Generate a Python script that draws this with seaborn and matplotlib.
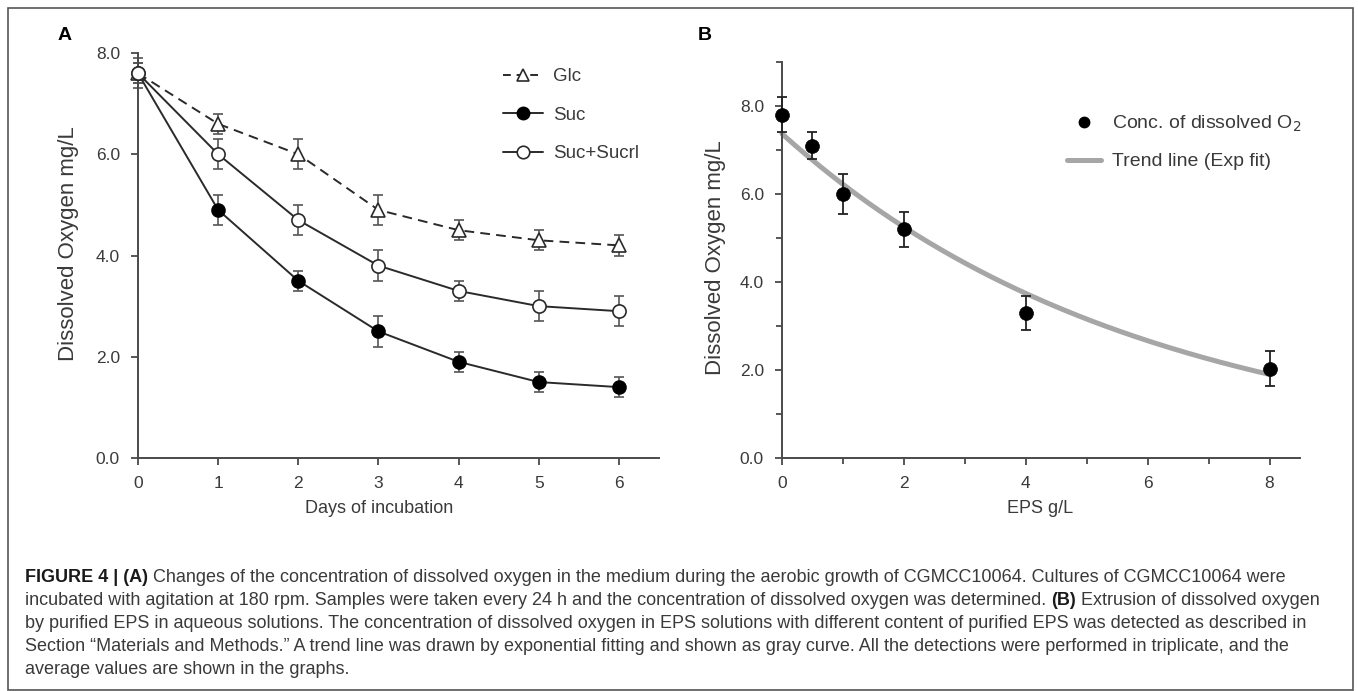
import numpy as np
import pandas as pd
import matplotlib
matplotlib.use("Agg")
import matplotlib.pyplot as plt
import seaborn as sns
from matplotlib.ticker import MultipleLocator, FormatStrFormatter
from matplotlib.lines import Line2D
from matplotlib.patches import Rectangle

# ---------------- data ----------------
days = [0, 1, 2, 3, 4, 5, 6]
glc = [7.6, 6.6, 6.0, 4.9, 4.5, 4.3, 4.2]
glc_err = [0.2, 0.2, 0.3, 0.3, 0.2, 0.2, 0.2]
suc = [7.6, 4.9, 3.5, 2.5, 1.9, 1.5, 1.4]
suc_err = [0.2, 0.3, 0.2, 0.3, 0.2, 0.2, 0.2]
sucrl = [7.6, 6.0, 4.7, 3.8, 3.3, 3.0, 2.9]
sucrl_err = [0.3, 0.3, 0.3, 0.3, 0.2, 0.3, 0.3]
series_names = ["Glc", "Suc", "Suc+Sucrl"]

eps = [0, 0.5, 1, 2, 4, 8]
dissolved = [7.8, 7.1, 6.0, 5.2, 3.3, 2.03]
dissolved_err = [0.4, 0.3, 0.45, 0.4, 0.38, 0.4]

yticks_a = [0, 2, 4, 6, 8]
xticks_a = [0, 1, 2, 3, 4, 5, 6]
yticks_b = [0, 2, 4, 6, 8]
xticks_b = [0, 2, 4, 6, 8]

caption_lines = [
    [("FIGURE 4 | (A)", "bold"),
     ("Changes of the concentration of dissolved oxygen in the medium during the aerobic growth of CGMCC10064. Cultures of CGMCC10064 were", "normal")],
    [("incubated with agitation at 180 rpm. Samples were taken every 24 h and the concentration of dissolved oxygen was determined.", "normal"),
     ("(B)", "bold"), ("Extrusion of dissolved oxygen", "normal")],
    [("by purified EPS in aqueous solutions. The concentration of dissolved oxygen in EPS solutions with different content of purified EPS was detected as described in", "normal")],
    [("Section \u201cMaterials and Methods.\u201d A trend line was drawn by exponential fitting and shown as gray curve. All the detections were performed in triplicate, and the", "normal")],
    [("average values are shown in the graphs.", "normal")],
]

# ---------------- style ----------------
sns.set_style("ticks")
plt.rcParams["font.family"] = ["Liberation Sans", "DejaVu Sans"]
plt.rcParams["axes.linewidth"] = 1.4

W, H = 1358, 691
fig = plt.figure(figsize=(W / 100, H / 100), dpi=100)
fig.patch.set_facecolor("white")

dark = "#2a2a2a"
spine_c = "#4a4a4a"
tick_c = "#3a3a3a"
err_c = "#555555"


def style_axes(ax):
    sns.despine(ax=ax)
    for s in ["left", "bottom"]:
        ax.spines[s].set_color(spine_c)
        ax.spines[s].set_linewidth(1.4)
    ax.tick_params(axis="both", which="major", direction="out", length=5, width=1.3,
                   color=spine_c, labelsize=12.5, labelcolor=tick_c, pad=8)
    ax.tick_params(axis="both", which="minor", direction="out", length=4, width=1.3,
                   color=spine_c)
    ax.set_facecolor("white")


# ---------------- Panel A ----------------
axA = fig.add_axes([138 / W, 1 - 458 / H, (659 - 138) / W, (458 - 53) / H])
style_axes(axA)

for vals, errs in [(glc, glc_err), (suc, suc_err), (sucrl, sucrl_err)]:
    axA.errorbar(days, vals, yerr=errs, fmt="none", ecolor=err_c, elinewidth=1.2,
                 capsize=3.5, capthick=1.2, zorder=2, clip_on=False)

sns.lineplot(x=days, y=glc, ax=axA, color=dark, linestyle=(0, (5, 3.2)), linewidth=1.4,
             marker="^", markersize=10, markerfacecolor="white", markeredgecolor=dark,
             markeredgewidth=1.2, zorder=3, clip_on=False)
sns.lineplot(x=days, y=suc, ax=axA, color=dark, linewidth=1.4,
             marker="o", markersize=9.5, markerfacecolor="black", markeredgecolor="black",
             markeredgewidth=1.0, zorder=4, clip_on=False)
sns.lineplot(x=days, y=sucrl, ax=axA, color=dark, linewidth=1.4,
             marker="o", markersize=9.5, markerfacecolor="white", markeredgecolor=dark,
             markeredgewidth=1.2, zorder=5, clip_on=False)

axA.set_xlim(0, 6.5)
axA.set_ylim(0, 8)
axA.set_xticks(xticks_a)
axA.set_yticks(yticks_a)
axA.yaxis.set_major_formatter(FormatStrFormatter("%.1f"))
axA.set_ylabel("Dissolved Oxygen mg/L", fontsize=16, color=tick_c)
axA.yaxis.set_label_coords(-0.134, 0.53)
axA.set_xlabel("Days of incubation", fontsize=13, color=tick_c)
axA.xaxis.set_label_coords(0.462, -0.125)
axA.xaxis.label.set_va("center")
axA.yaxis.label.set_va("center")

handlesA = [
    Line2D([], [], color=dark, linestyle=(0, (4, 3)), linewidth=1.4, marker="^", markersize=9,
           markerfacecolor="white", markeredgecolor=dark, markeredgewidth=1.2),
    Line2D([], [], color=dark, linewidth=1.4, marker="o", markersize=9,
           markerfacecolor="black", markeredgecolor="black"),
    Line2D([], [], color=dark, linewidth=1.4, marker="o", markersize=9,
           markerfacecolor="white", markeredgecolor=dark, markeredgewidth=1.2),
]
legA = axA.legend(handlesA, series_names, loc="upper left",
                  bbox_to_anchor=(503 / W, 1 - 68 / H), bbox_transform=fig.transFigure,
                  frameon=False, fontsize=13.5, handlelength=2.15, handletextpad=0.5,
                  labelspacing=1.15, borderpad=0, borderaxespad=0)
for t in legA.get_texts():
    t.set_color(tick_c)

# ---------------- Panel B ----------------
axB = fig.add_axes([782 / W, 1 - 458 / H, (1300 - 782) / W, (458 - 62) / H])
style_axes(axB)

slope, ln_a = np.polyfit(eps, np.log(dissolved), 1)
fit_x = np.linspace(min(eps), max(eps), 200)
fit_df = pd.DataFrame({"x": fit_x, "y": np.exp(ln_a + slope * fit_x)})
sns.lineplot(data=fit_df, x="x", y="y", ax=axB, color="#a6a6a6", linewidth=3.6,
             zorder=2, clip_on=False)

axB.errorbar(eps, dissolved, yerr=dissolved_err, fmt="none", ecolor="#222222",
             elinewidth=1.3, capsize=3.5, capthick=1.3, zorder=3, clip_on=False)
sns.scatterplot(x=eps, y=dissolved, ax=axB, color="black", s=100, edgecolor="black",
                linewidth=0.5, zorder=4, clip_on=False)

axB.set_xlim(0, 8.5)
axB.set_ylim(0, 9)
axB.set_xticks(xticks_b)
axB.set_yticks(yticks_b)
axB.xaxis.set_minor_locator(MultipleLocator(1))
axB.yaxis.set_minor_locator(MultipleLocator(1))
axB.yaxis.set_major_formatter(FormatStrFormatter("%.1f"))
axB.set_ylabel("Dissolved Oxygen mg/L", fontsize=16, color=tick_c)
axB.yaxis.set_label_coords(-0.129, 0.505)
axB.set_xlabel("EPS g/L", fontsize=13, color=tick_c)
axB.xaxis.set_label_coords(0.498, -0.128)
axB.xaxis.label.set_va("center")
axB.yaxis.label.set_va("center")

handlesB = [
    Line2D([], [], linestyle="none", marker="o", markersize=7.5, color="black"),
    Line2D([], [], color="#a6a6a6", linewidth=3.6),
]
legB = axB.legend(handlesB, ["Conc. of dissolved O$_2$", "Trend line (Exp fit)"],
                  loc="upper left", bbox_to_anchor=(1067 / W, 1 - 114 / H),
                  bbox_transform=fig.transFigure, frameon=False, fontsize=14,
                  handlelength=1.75, handletextpad=0.55, labelspacing=0.95,
                  borderpad=0, borderaxespad=0)
for t in legB.get_texts():
    t.set_color(tick_c)

# ---------------- panel letters ----------------
fig.text(65 / W, 1 - 35 / H, "A", fontsize=14, fontweight="bold", ha="center", va="center", color="black")
fig.text(705 / W, 1 - 35 / H, "B", fontsize=14, fontweight="bold", ha="center", va="center", color="black")

# ---------------- caption ----------------
renderer = fig.canvas.get_renderer()


def text_width(s, size, weight="normal"):
    t = fig.text(0, 0, s, fontsize=size, fontweight=weight)
    w = t.get_window_extent(renderer).width
    t.remove()
    return w


ref_line = caption_lines[2][0][0]
w10 = text_width(ref_line, 10)
cap_size = 10 * (1310 - 25) / w10
space_w = text_width("x x", cap_size) - text_width("xx", cap_size)

y0, dy = 578, 22.8
for i, segs in enumerate(caption_lines):
    x = 25
    y = y0 + i * dy
    for j, (s, wgt) in enumerate(segs):
        if j > 0:
            x += space_w
        col = "#1a1a1a" if wgt == "bold" else "#3a3a3a"
        t = fig.text(x / W, 1 - y / H, s, fontsize=cap_size, fontweight=wgt,
                     ha="left", va="center", color=col)
        x += t.get_window_extent(renderer).width

# ---------------- outer frame ----------------
fig.patches.append(Rectangle((8 / W, 1 / H), (1353 - 8) / W, (683 - 1) / H,
                             transform=fig.transFigure, fill=False,
                             edgecolor="#555555", linewidth=1.2))

fig.savefig("out.png", dpi=100)
